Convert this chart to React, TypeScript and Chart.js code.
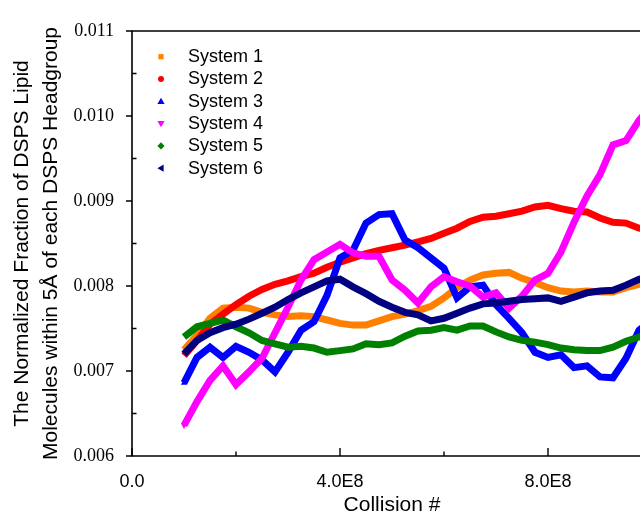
import React, { useEffect, useRef } from 'react';
import { Chart, registerables } from 'chart.js';

Chart.register(...registerables);

const collisions = [
  1.0e8, 1.25e8, 1.5e8, 1.75e8, 2.0e8, 2.25e8, 2.5e8, 2.75e8, 3.0e8, 3.25e8,
  3.5e8, 3.75e8, 4.0e8, 4.25e8, 4.5e8, 4.75e8, 5.0e8, 5.25e8, 5.5e8, 5.75e8,
  6.0e8, 6.25e8, 6.5e8, 6.75e8, 7.0e8, 7.25e8, 7.5e8, 7.75e8, 8.0e8, 8.25e8,
  8.5e8, 8.75e8, 9.0e8, 9.25e8, 9.5e8, 9.75e8, 1.0e9,
];

const system1 = [
  0.00725, 0.00742, 0.00762, 0.00774, 0.00775, 0.00774, 0.00769, 0.00766, 0.00764, 0.00765,
  0.00764, 0.0076, 0.00756, 0.00754, 0.00754, 0.00759, 0.00764, 0.00767, 0.00771, 0.00776,
  0.00786, 0.00798, 0.00807, 0.00813, 0.00815, 0.00816, 0.00809, 0.00804, 0.00798, 0.00794,
  0.00793, 0.00794, 0.00793, 0.00793, 0.00798, 0.00802, 0.00805,
];
const system2 = [
  0.00718, 0.00736, 0.00755, 0.00767, 0.00778, 0.00788, 0.00796, 0.00802, 0.00806, 0.00811,
  0.00815, 0.00822, 0.00828, 0.00833, 0.00838, 0.00842, 0.00845, 0.00848, 0.00852, 0.00856,
  0.00862, 0.00868, 0.00876, 0.00881, 0.00882, 0.00885, 0.00888, 0.00893, 0.00895, 0.00891,
  0.00888, 0.00887, 0.0088, 0.00875, 0.00874, 0.00868, 0.00866,
];
const system3 = [
  0.00686, 0.00716, 0.00728, 0.00716, 0.00729, 0.00722, 0.00713, 0.00699, 0.00722, 0.00748,
  0.00758, 0.00789, 0.00833, 0.00842, 0.00874, 0.00884, 0.00885, 0.00854, 0.00845, 0.00833,
  0.00821, 0.00786, 0.00799, 0.00801, 0.00778, 0.00762, 0.00745, 0.00722, 0.00716, 0.00719,
  0.00704, 0.00706, 0.00693, 0.00692, 0.00715, 0.00748, 0.0076,
];
const system4 = [
  0.00636, 0.00664, 0.00689, 0.00706, 0.00684, 0.00699, 0.00715, 0.00745, 0.00775, 0.00807,
  0.00831, 0.0084, 0.00849, 0.00839, 0.00835, 0.00835, 0.00807, 0.00795, 0.0078, 0.00799,
  0.00811, 0.00805, 0.008, 0.00787, 0.00792, 0.00774, 0.00788, 0.00807, 0.00815, 0.0084,
  0.00875, 0.00906, 0.00931, 0.00966, 0.00971, 0.00995, 0.01013,
];
const system5 = [
  0.0074, 0.00752, 0.00756, 0.0076, 0.00752, 0.00745, 0.00736, 0.00732, 0.00728, 0.00729,
  0.00727, 0.00722, 0.00724, 0.00726, 0.00732, 0.00731, 0.00733, 0.00741, 0.00747, 0.00748,
  0.00751, 0.00748, 0.00753, 0.00753, 0.00746, 0.0074, 0.00736, 0.00734, 0.00731, 0.00727,
  0.00725, 0.00724, 0.00724, 0.00728, 0.00735, 0.0074, 0.00744,
];
const system6 = [
  0.0072, 0.00736, 0.00745, 0.00751, 0.00755, 0.00761, 0.00768, 0.00775, 0.00784, 0.00792,
  0.00799, 0.00806, 0.00808, 0.00799, 0.00791, 0.00782, 0.00775, 0.00769, 0.00766, 0.00759,
  0.00762, 0.00768, 0.00774, 0.00779, 0.0078, 0.00782, 0.00784, 0.00785, 0.00786, 0.00782,
  0.00787, 0.00792, 0.00794, 0.00795, 0.00801, 0.00808, 0.00812,
];

const seriesNames = ['System 1', 'System 2', 'System 3', 'System 4', 'System 5', 'System 6'];
const seriesColors = ['#FF8000', '#FF0000', '#0000FF', '#FF00FF', '#008000', '#000080'];
const seriesMarkers = ['square', 'circle', 'triUp', 'triDown', 'diamond', 'triLeft'];
const seriesValues = [system1, system2, system3, system4, system5, system6];

const xTickValues = [0, 4e8, 8e8];
const xTickLabels = ['0.0', '4.0E8', '8.0E8'];
const xMinorTicks = [2e8, 6e8];
const yTickValues = [0.006, 0.007, 0.008, 0.009, 0.01, 0.011];
const yTickLabels = ['0.006', '0.007', '0.008', '0.009', '0.010', '0.011'];
const yMinorTicks = [0.0065, 0.0075, 0.0085, 0.0095, 0.0105];

const xTitle = 'Collision #';
const yTitle = ['The Normalized Fraction of DSPS Lipid', 'Molecules within 5Å of each DSPS Headgroup'];

const SANS = "'Liberation Sans', Arial, sans-serif";
const SERIF = "'Liberation Serif', 'Times New Roman', Times, serif";

function drawMarker(ctx: CanvasRenderingContext2D, kind: string, x: number, y: number, color: string) {
  ctx.fillStyle = color;
  ctx.beginPath();
  if (kind === 'square') {
    ctx.rect(x - 2.6, y - 2.6, 5.2, 5.2);
  } else if (kind === 'circle') {
    ctx.arc(x, y, 3, 0, Math.PI * 2);
  } else if (kind === 'triUp') {
    ctx.moveTo(x, y - 3.6); ctx.lineTo(x - 3.6, y + 2.6); ctx.lineTo(x + 3.6, y + 2.6);
  } else if (kind === 'triDown') {
    ctx.moveTo(x, y + 3.6); ctx.lineTo(x - 3.6, y - 2.6); ctx.lineTo(x + 3.6, y - 2.6);
  } else if (kind === 'diamond') {
    ctx.moveTo(x, y - 3.6); ctx.lineTo(x + 3.6, y); ctx.lineTo(x, y + 3.6); ctx.lineTo(x - 3.6, y);
  } else {
    ctx.moveTo(x - 3.6, y); ctx.lineTo(x + 2.6, y - 3.6); ctx.lineTo(x + 2.6, y + 3.6);
  }
  ctx.closePath();
  ctx.fill();
}

const framePlugin = {
  id: 'frameAndLegend',
  afterDatasetsDraw(chart: any) {
    const { ctx, chartArea: a, scales } = chart;
    const xs = scales.x;
    const ys = scales.y;
    ctx.save();
    ctx.strokeStyle = '#000';
    ctx.lineWidth = 1.6;
    ctx.beginPath();
    ctx.moveTo(a.right + 20, a.top);
    ctx.lineTo(a.left, a.top);
    ctx.lineTo(a.left, a.bottom);
    ctx.lineTo(a.right + 20, a.bottom);
    ctx.stroke();

    ctx.lineWidth = 1.4;
    ctx.beginPath();
    yTickValues.forEach((v) => {
      const py = ys.getPixelForValue(v);
      ctx.moveTo(a.left - 6, py);
      ctx.lineTo(a.left, py);
    });
    yMinorTicks.forEach((v) => {
      const py = ys.getPixelForValue(v);
      ctx.moveTo(a.left, py);
      ctx.lineTo(a.left + 4.5, py);
    });
    xTickValues.forEach((v) => {
      const px = xs.getPixelForValue(v);
      ctx.moveTo(px, a.bottom);
      ctx.lineTo(px, a.bottom - 8);
    });
    xMinorTicks.forEach((v) => {
      const px = xs.getPixelForValue(v);
      ctx.moveTo(px, a.bottom);
      ctx.lineTo(px, a.bottom - 4.5);
    });
    ctx.stroke();

    // legend
    const lx = a.left + 29;
    const tx = a.left + 56;
    const ly0 = a.top + 25.7;
    const step = 22.3;
    ctx.font = `18px ${SANS}`;
    ctx.textBaseline = 'middle';
    ctx.textAlign = 'left';
    seriesNames.forEach((name, i) => {
      const yy = ly0 + i * step;
      drawMarker(ctx, seriesMarkers[i], lx, yy, seriesColors[i]);
      ctx.fillStyle = '#000';
      ctx.fillText(name, tx, yy + 0.5);
    });
    ctx.restore();
  },
};

export default function App() {
  const ref = useRef<HTMLCanvasElement | null>(null);

  useEffect(() => {
    if (!ref.current) return;
    const datasets = seriesValues.map((vals, i) => {
      const isBlue = i === 2;
      const isPink = i === 3;
      return {
        label: seriesNames[i],
        data: collisions.map((c, j) => ({ x: c, y: vals[j] })),
        borderColor: seriesColors[i],
        backgroundColor: seriesColors[i],
        borderWidth: 7,
        pointRadius: isBlue || isPink ? 3.6 : 0,
        pointStyle: 'triangle',
        rotation: isPink ? 180 : 0,
        pointBorderWidth: 0,
        tension: 0,
        order: 7 - i,
      };
    });

    const chart = new Chart(ref.current, {
      type: 'line',
      data: { datasets },
      plugins: [framePlugin],
      options: {
        animation: false,
        responsive: false,
        devicePixelRatio: 1,
        layout: { padding: { top: 31, right: 8, left: 0, bottom: 0 } },
        plugins: {
          legend: { display: false },
          tooltip: { enabled: false },
        },
        scales: {
          x: {
            type: 'linear',
            min: 0,
            max: 1e9,
            grid: { display: false },
            border: { display: false },
            afterBuildTicks: (s: any) => {
              s.ticks = xTickValues.map((v) => ({ value: v }));
            },
            afterFit: (s: any) => {
              s.height = 74;
            },
            ticks: {
              color: '#000',
              font: { family: SANS, size: 18 },
              padding: 7,
              maxRotation: 0,
              callback: (v: any) => {
                const k = xTickValues.indexOf(Number(v));
                return k >= 0 ? xTickLabels[k] : '';
              },
            },
            title: {
              display: true,
              text: xTitle,
              color: '#000',
              font: { family: SANS, size: 21 },
              padding: { top: 0, bottom: 12.4 },
            },
          },
          y: {
            type: 'linear',
            min: 0.006,
            max: 0.011,
            grid: { display: false },
            border: { display: false },
            afterBuildTicks: (s: any) => {
              s.ticks = yTickValues.map((v) => ({ value: v }));
            },
            afterFit: (s: any) => {
              s.width = 132;
            },
            ticks: {
              color: '#000',
              font: { family: SERIF, size: 18 },
              padding: 10,
              callback: (v: any) => {
                const k = yTickValues.findIndex((t) => Math.abs(t - Number(v)) < 1e-9);
                return k >= 0 ? yTickLabels[k] : '';
              },
            },
            title: {
              display: true,
              text: yTitle,
              color: '#000',
              font: { family: SANS, size: 21, lineHeight: 1.38 },
              padding: { top: 7.5, bottom: 0 },
            },
          },
        },
      },
    } as any);
    return () => chart.destroy();
  }, []);

  return (
    <div
      style={{
        position: 'fixed',
        left: 0,
        top: 0,
        width: 640,
        height: 514,
        overflow: 'hidden',
        background: '#fff',
      }}
    >
      <canvas ref={ref} width={660} height={530} style={{ display: 'block', width: 660, height: 530 }} />
    </div>
  );
}
